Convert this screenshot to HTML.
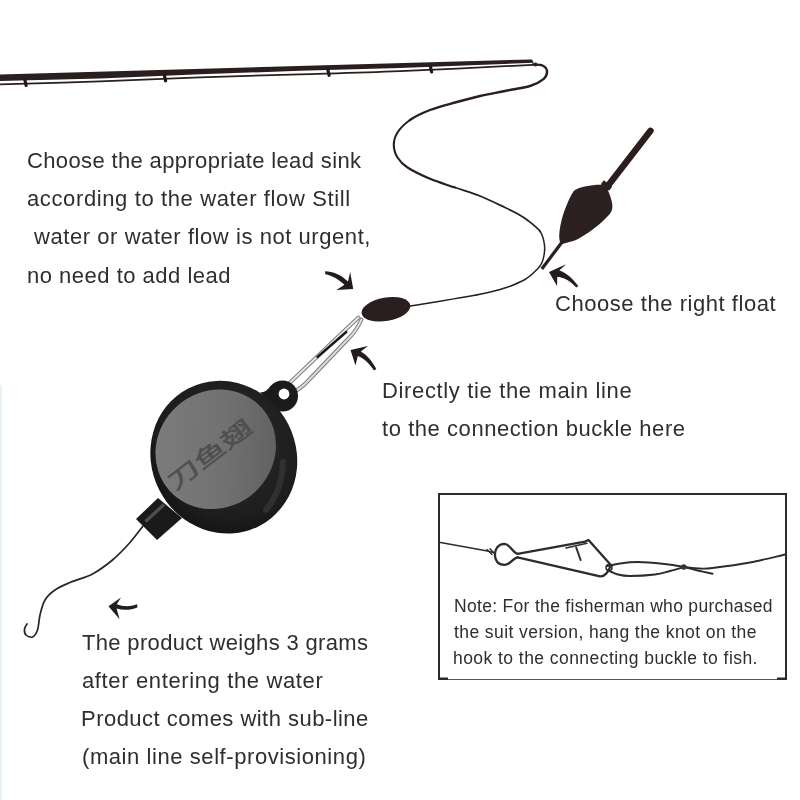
<!DOCTYPE html>
<html><head><meta charset="utf-8"><title>Fishing rig guide</title>
<style>
html,body{margin:0;padding:0;background:#fff;}
body{width:800px;height:800px;position:relative;overflow:hidden;font-family:"Liberation Sans","Noto Sans CJK SC",sans-serif;color:#2e2e2e;}
svg{position:absolute;left:0;top:0;}
.t{position:absolute;white-space:pre;will-change:transform;font-size:22px;line-height:24px;}
.n{font-size:17.5px;line-height:20px;}
</style></head><body>
<svg width="800" height="800" viewBox="0 0 800 800">
<defs>
<linearGradient id="face" gradientUnits="userSpaceOnUse" x1="165" y1="400" x2="270" y2="500"><stop offset="0" stop-color="#7d7d7d"/><stop offset="0.55" stop-color="#717171"/><stop offset="1" stop-color="#5e5e5e"/></linearGradient>
<radialGradient id="body" cx="0.45" cy="0.42" r="0.6"><stop offset="0" stop-color="#2c2c2c"/><stop offset="0.8" stop-color="#1d1d1d"/><stop offset="1" stop-color="#141414"/></radialGradient>
</defs>
<rect x="0" y="385" width="2" height="415" fill="#e6f3f6"/>
<polygon points="0,74.4 532,59.4 533.8,62.8 400,68 300,70.8 200,74.3 100,78.6 0,81" fill="#2a1e1e"/>
<path d="M0.0 84.4 C16.7 83.9 66.7 82.6 100.0 81.4 C133.3 80.2 166.7 78.6 200.0 77.4 C233.3 76.2 266.7 75.4 300.0 74.4 C333.3 73.4 361.2 72.8 400.0 71.2 C438.8 69.6 510.8 65.9 533.0 64.8" stroke="#2a1e1e" stroke-width="1.7" fill="none"/>
<path d="M24.9 80.0 L26.1 85.5" stroke="#231818" stroke-width="3.2" stroke-linecap="round"/>
<path d="M164.4 75.3 L165.6 80.8" stroke="#231818" stroke-width="3.2" stroke-linecap="round"/>
<path d="M327.9 69.8 L329.1 75.3" stroke="#231818" stroke-width="3.2" stroke-linecap="round"/>
<path d="M430.4 66.5 L431.6 72.0" stroke="#231818" stroke-width="3.2" stroke-linecap="round"/>
<g fill="none" stroke="#2a1e1e" stroke-linecap="round">
<path d="M533.0 64.5 C534.6 64.7 540.2 64.4 542.5 65.5 C544.8 66.6 546.8 68.8 547.0 71.0 C547.2 73.2 546.6 76.2 543.8 78.8 C540.9 81.2 536.5 84.0 530.0 86.0 C523.5 88.0 513.3 89.3 505.0 91.0 C496.7 92.7 488.3 94.1 480.0 96.0 C471.7 97.9 463.3 100.2 455.0 102.5 C446.7 104.8 437.5 107.1 430.0 110.0 C422.5 112.9 415.4 116.2 410.0 120.0" stroke-width="2.4"/>
<path d="M410.0 120.0 C404.6 123.8 400.2 128.3 397.5 132.5 C394.8 136.7 393.8 140.8 393.8 145.0 C393.8 149.2 395.2 153.8 397.5 157.5 C399.8 161.2 402.1 164.0 407.5 167.5 C412.9 171.0 422.1 175.4 430.0 178.8 C437.9 182.1 446.7 184.6 455.0 187.5" stroke-width="2.1"/>
<path d="M455.0 187.5 C463.3 190.4 471.7 192.7 480.0 196.0 C488.3 199.3 498.8 204.6 505.0 207.5 C511.2 210.4 513.3 211.4 517.0 213.5 C520.7 215.6 523.4 217.0 527.2 220.0 C531.1 223.0 537.2 227.5 540.0 231.2" stroke-width="1.8"/>
<path d="M540.0 231.2 C542.8 235.0 543.4 239.1 544.1 242.5 C544.9 245.9 544.8 248.2 544.5 251.5 C544.2 254.8 543.4 259.1 542.2 262.0 C541.1 264.9 540.4 266.1 537.5 269.0 C534.6 271.9 530.6 276.3 525.0 279.5 C519.4 282.7 511.5 285.8 504.0 288.3 C496.5 290.8 487.3 292.7 480.0 294.3 C472.7 295.9 466.7 296.7 460.0 297.8 C453.3 298.9 448.5 299.8 440.0 301.2 C431.5 302.6 414.2 305.4 409.0 306.3" stroke-width="1.5"/>
</g>
<circle cx="535.5" cy="64.6" r="2" fill="#2a1e1e"/>
<path d="M650.5 130.8 L607 187" stroke="#2a1e1e" stroke-width="6.4" stroke-linecap="round"/>
<path d="M602.3 182.3 L610.6 188.8" stroke="#2a1e1e" stroke-width="5"/>
<path d="M602.0 185.0 C598.8 184.3 592.2 185.3 588.0 186.0 C583.8 186.7 579.6 187.8 577.0 189.0 C574.4 190.2 574.0 190.8 572.5 193.0 C571.0 195.2 569.6 198.3 568.0 202.0 C566.4 205.7 564.3 210.7 563.0 215.0 C561.7 219.3 560.6 224.2 560.0 228.0 C559.4 231.8 559.1 235.4 559.3 238.0 C559.5 240.6 559.9 242.7 561.0 243.5 C562.1 244.3 563.2 243.8 566.0 243.0 C568.8 242.2 573.7 241.2 578.0 239.0 C582.3 236.8 587.7 233.2 592.0 230.0 C596.3 226.8 600.8 223.0 604.0 220.0 C607.2 217.0 609.6 214.5 611.0 212.0 C612.4 209.5 612.4 207.5 612.3 205.0 C612.2 202.5 611.3 199.5 610.5 197.0 C609.7 194.5 608.9 192.0 607.5 190.0 C606.1 188.0 605.2 185.7 602.0 185.0Z" fill="#2c2020"/>
<path d="M562.5 241.5 L541.8 269" stroke="#2a1e1e" stroke-width="3.2"/>
<ellipse cx="386" cy="309.3" rx="24.7" ry="11.7" transform="rotate(-10 386 309.3)" fill="#2a1e1e"/>
<g fill="none" stroke-linecap="round" stroke-linejoin="round">
<path d="M358.5 317.5 L342 333 L289 383.5" stroke="#7c7c7c" stroke-width="3.8"/>
<path d="M358.5 317.5 L342 333 L289 383.5" stroke="#e6e6e6" stroke-width="1.9"/>
<path d="M361.5 319.5 C358 327 354 333 349.5 337.5 L306 383 C301 388 295 392 289 393" stroke="#7c7c7c" stroke-width="4"/>
<path d="M361.5 319.5 C358 327 354 333 349.5 337.5 L306 383 C301 388 295 392 289 393" stroke="#dcdcdc" stroke-width="2"/>
<path d="M346.3 332 L317.5 357" stroke="#1c1c1c" stroke-width="2.4"/>
</g>
<path d="M143.0 526.0 C140.8 528.8 135.1 536.8 130.0 542.5 C124.9 548.2 118.8 554.8 112.5 560.0 C106.2 565.2 99.6 570.2 92.5 574.0 C85.4 577.8 76.2 579.8 70.0 582.5 C63.8 585.2 59.2 587.1 55.0 590.0 C50.8 592.9 47.5 595.8 45.0 600.0 C42.5 604.2 41.2 610.0 40.0 615.0 C38.8 620.0 38.8 626.3 37.5 630.0 C36.2 633.7 34.4 636.2 32.5 637.0 C30.6 637.8 27.3 636.3 26.0 635.0 C24.7 633.7 24.3 630.8 24.5 629.0 C24.7 627.2 26.6 624.8 27.0 624.0" stroke="#2a2424" stroke-width="1.7" fill="none" stroke-linecap="round"/>
<polygon points="136,519 158,498 182,518 157,540" fill="#1a1a1a"/>
<path d="M145.5 521.5 L164 504.5" stroke="#4e4e4e" stroke-width="3.4"/>
<circle cx="282.5" cy="396" r="15.5" fill="#1b1b1b"/>
<path d="M271 385.5 Q267 392 260 392.5 L272 404 Z" fill="#1b1b1b"/>
<circle cx="284" cy="394" r="5.4" fill="#fff"/>
<ellipse cx="223.8" cy="457.2" rx="77.4" ry="72.4" transform="rotate(63 223.8 457.2)" fill="url(#body)"/>
<path d="M283 462 C282.5 480 277 496 266 510" stroke="#353535" stroke-width="6" fill="none" stroke-linecap="round" opacity="0.8"/>
<ellipse cx="215.7" cy="449.3" rx="62" ry="58" transform="rotate(-41.6 215.7 449.3)" fill="url(#face)"/>
<text transform="translate(175,491) rotate(-37.5) scale(1.55,1)" font-family="'Liberation Sans','Noto Sans CJK SC',sans-serif" font-size="21.5" fill="#505050" stroke="#4a4a4a" stroke-width="0.4">刀鱼翅</text>
<g fill="#231c1c">
<path d="M325 271.3 C333 271.3 341 275 348 281.5 L350.2 272 L353.2 289 L336.4 290 L344.5 284.8 C339 279.5 332 275.5 325.3 274.2 Z"/>
<path d="M350.5 350 L368 346 L360.8 351.5 C367 355 372 361 376.3 369 L374 370.6 C369.5 363.5 364 358.5 357.8 356 L355.5 365.5 Z"/>
<path d="M549 272 L566 264.3 L559.3 270.5 C567 273 573 279 578.3 286 L576.3 287.6 C571 281.5 565 278 557.3 276.8 L557 286 Z"/>
<path d="M108.4 606.3 L121 597.5 L116.8 604.3 C123 606.8 131 606.8 137 604.3 L137.6 607.3 C131 610.3 123 610.5 116.6 608.6 L119.6 619.3 Z"/>
</g>
<path d="M439 680 L439 494 L786 494 L786 680" fill="none" stroke="#2b2b2b" stroke-width="2"/>
<path d="M439 679.5 L786 679.5" stroke="#555" stroke-width="1.2"/>
<path d="M438 678.8 L448 678.8 M777 678.8 L787 678.8" stroke="#2b2b2b" stroke-width="2.4"/>
<g fill="none" stroke="#2c2c2c" stroke-linecap="round" stroke-linejoin="round">
<path d="M440.5 542.5 L487.5 551 L495 553" stroke-width="1.3"/>
<path d="M487 549.5 L492 554.5 M490 548.8 L494 553" stroke-width="1.4"/>
<path d="M517.6 553.9 C512 552 510 544 504.5 543.9 C498 544 494.9 549 494.9 554.75 C494.9 560.5 498 565 504.5 564.9 C510 565 512 558.5 517.6 557.4" stroke-width="2.3"/>
<path d="M517.6 553.9 L585 541.6 L588.5 540 L610.4 564.4" stroke-width="2.3"/>
<path d="M517.6 557.4 L600 576.3 C604.5 577 608.5 572 610.4 566" stroke-width="2.3"/>
<path d="M566 548 L587 543.3" stroke-width="1.5"/>
<path d="M576.2 547.5 L580.6 560" stroke-width="2"/>
<path d="M607.5 566.0 C609.6 565.6 615.0 564.2 620.0 563.5 C625.0 562.8 630.4 562.0 637.5 562.0 C644.6 562.0 654.8 562.9 662.5 563.8 C670.2 564.6 677.5 565.8 683.8 567.0 C690.0 568.2 695.2 569.9 700.0 571.0 C704.8 572.1 710.4 573.3 712.5 573.8" stroke-width="2"/>
<path d="M607.5 570.0 C609.2 570.8 614.2 573.5 618.0 574.5 C621.8 575.5 623.8 576.0 630.0 576.0 C636.2 576.0 648.3 575.3 655.0 574.5 C661.7 573.7 665.2 572.2 670.0 571.0 C674.8 569.8 681.5 567.7 683.8 567.0" stroke-width="2"/>
<path d="M683.8 567.0 C686.5 567.2 695.2 568.3 700.0 568.5 C704.8 568.7 704.2 569.0 712.5 568.0 C720.8 567.0 737.9 564.8 750.0 562.5 C762.1 560.2 779.2 555.8 785.0 554.5" stroke-width="1.8"/>
<circle cx="609" cy="567.5" r="3" stroke-width="1.5"/>
</g>
<circle cx="683.75" cy="567" r="2.8" fill="#333"/>
</svg>
<span class="t" style="left:27.1px;top:149.38px;letter-spacing:0.358px">Choose the appropriate lead sink</span>
<span class="t" style="left:27.3px;top:187.38px;letter-spacing:0.619px">according to the water flow Still</span>
<span class="t" style="left:34.0px;top:225.38px;letter-spacing:0.561px">water or water flow is not urgent,</span>
<span class="t" style="left:27.2px;top:263.88px;letter-spacing:0.500px">no need to add lead</span>
<span class="t" style="left:554.6px;top:291.88px;letter-spacing:0.548px">Choose the right float</span>
<span class="t" style="left:381.6px;top:378.88px;letter-spacing:0.644px">Directly tie the main line</span>
<span class="t" style="left:382.4px;top:417.38px;letter-spacing:0.557px">to the connection buckle here</span>
<span class="t" style="left:82.0px;top:631.38px;letter-spacing:0.332px">The product weighs 3 grams</span>
<span class="t" style="left:81.8px;top:669.38px;letter-spacing:0.630px">after entering the water</span>
<span class="t" style="left:81.2px;top:707.38px;letter-spacing:0.469px">Product comes with sub-line</span>
<span class="t" style="left:82.2px;top:745.38px;letter-spacing:0.571px">(main line self-provisioning)</span>
<span class="t n" style="left:453.9px;top:596.04px;letter-spacing:0.311px">Note: For the fisherman who purchased</span>
<span class="t n" style="left:454.4px;top:621.74px;letter-spacing:0.419px">the suit version, hang the knot on the</span>
<span class="t n" style="left:453.4px;top:648.14px;letter-spacing:0.446px">hook to the connecting buckle to fish.</span>
</body></html>
